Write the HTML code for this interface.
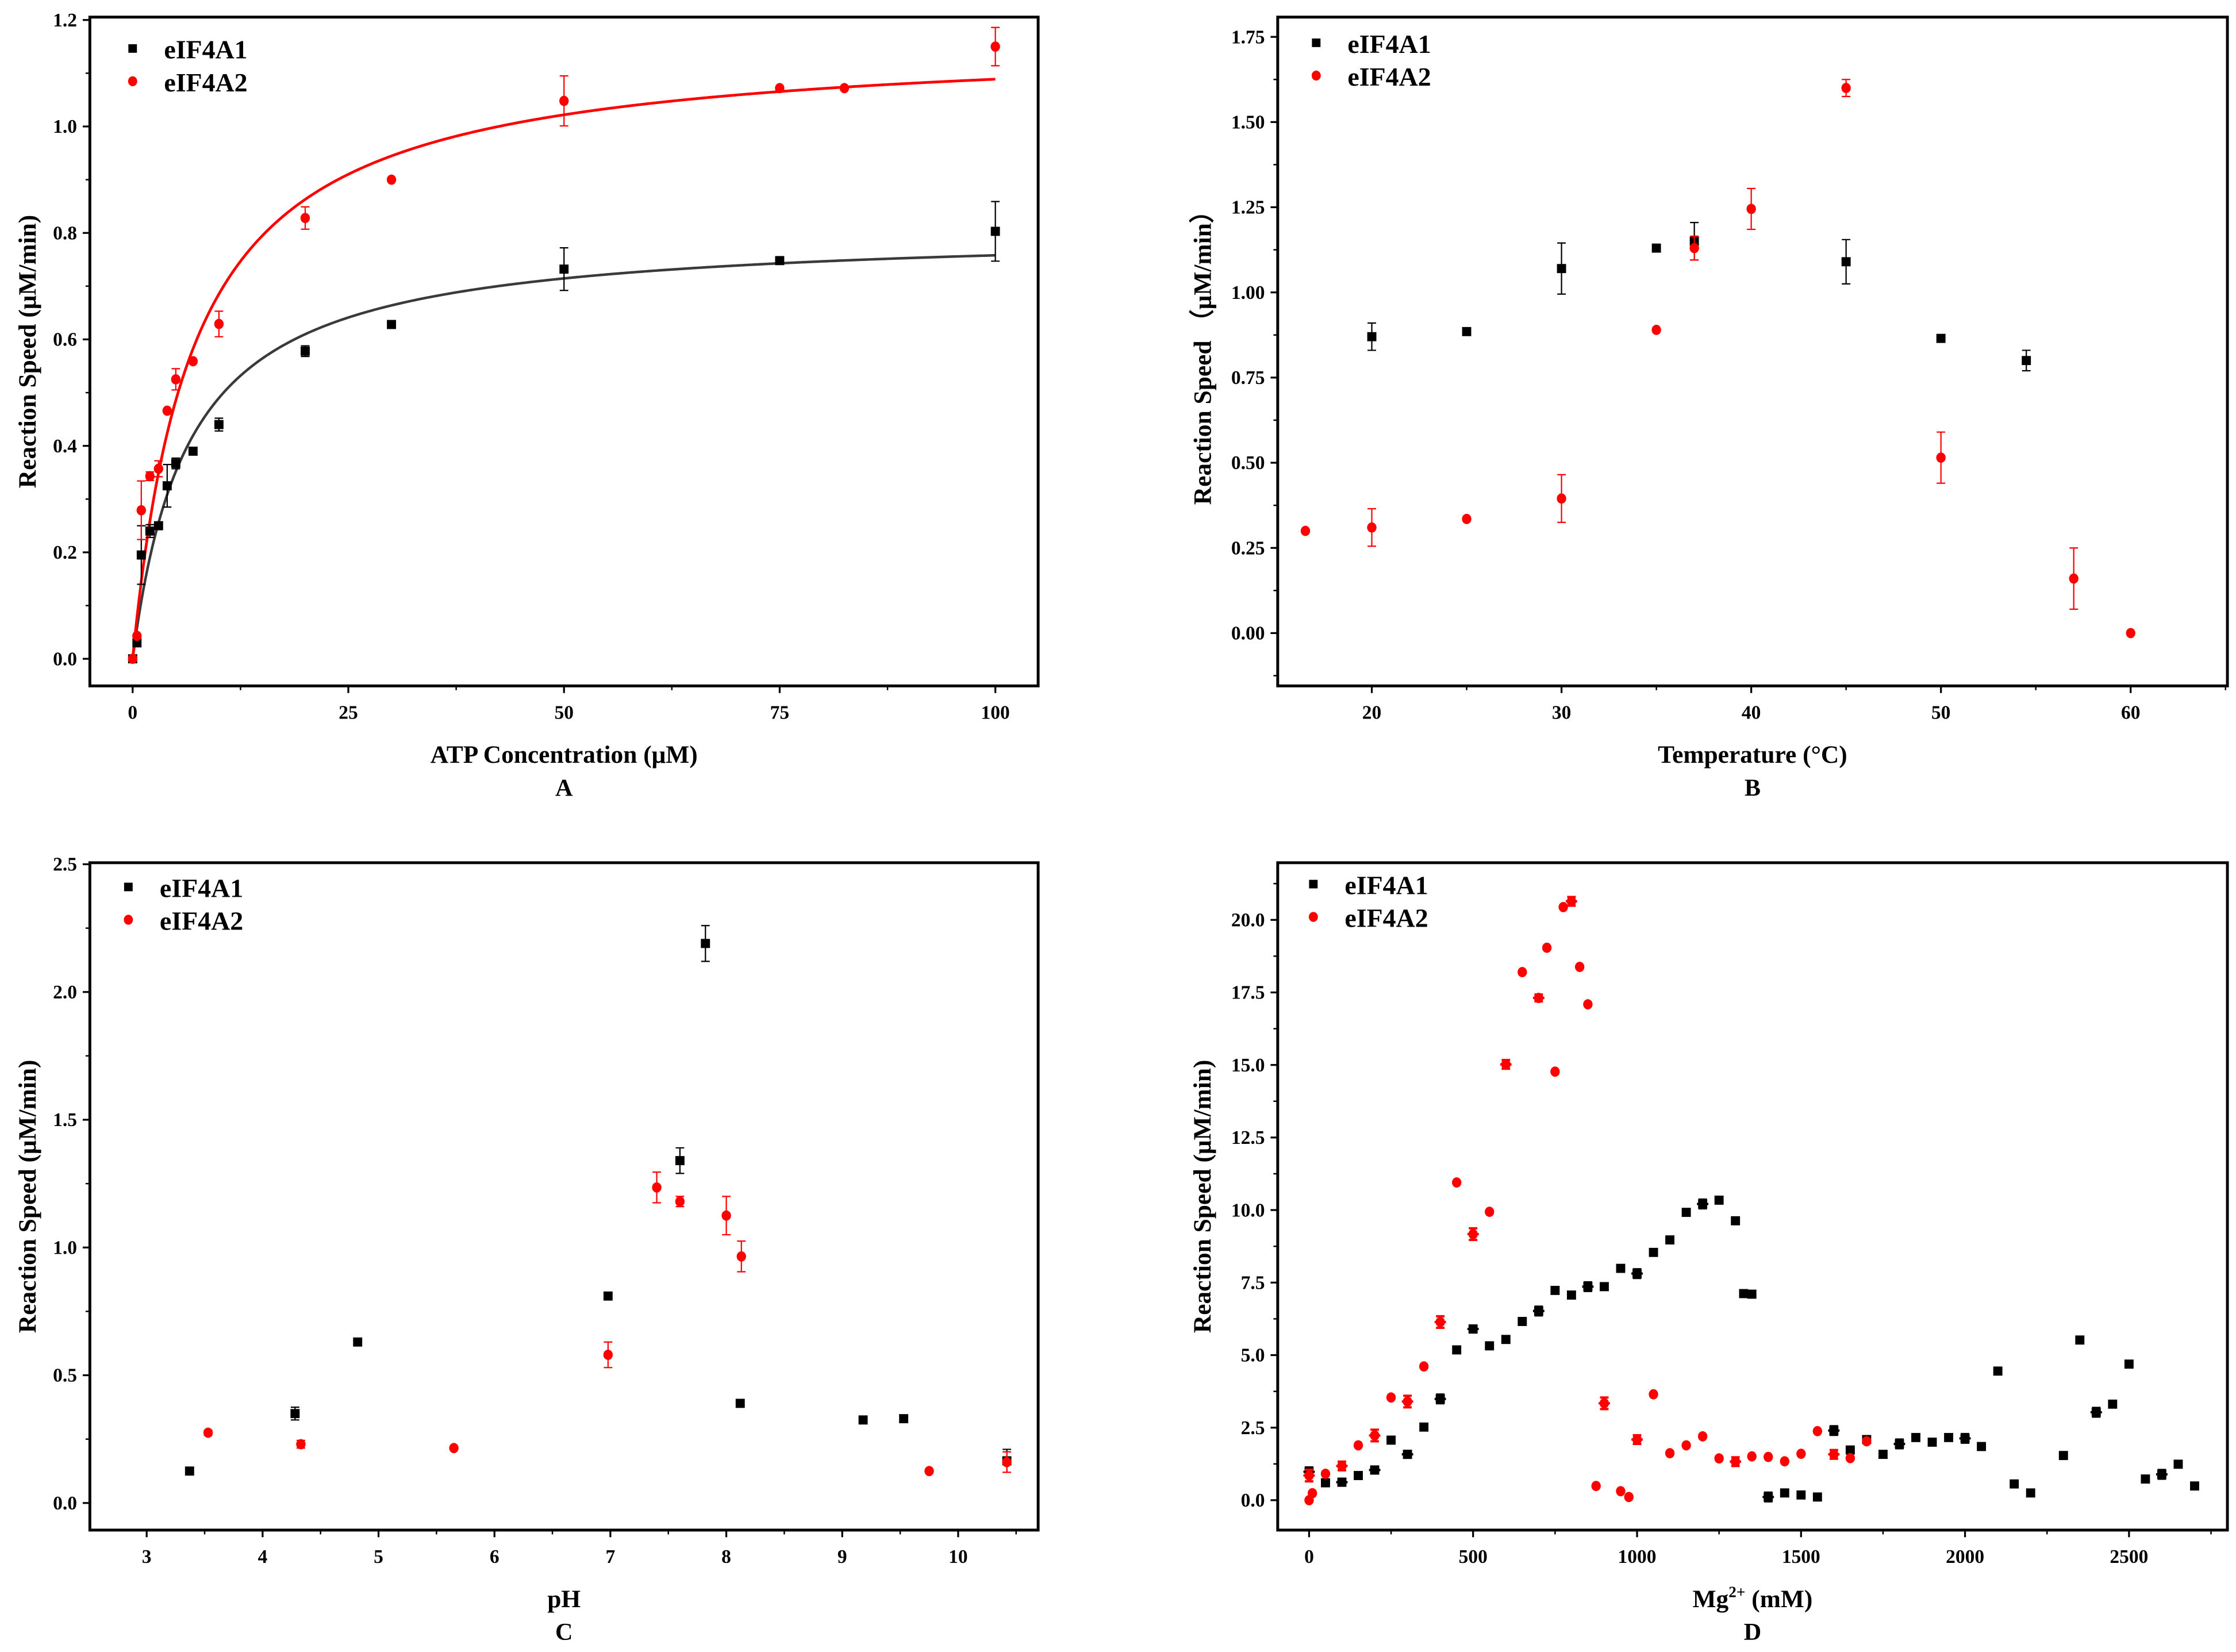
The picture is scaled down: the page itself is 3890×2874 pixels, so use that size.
<!DOCTYPE html>
<html><head><meta charset="utf-8">
<style>
html,body{margin:0;padding:0;background:#fff;}
svg{display:block;}
text{font-family:"Liberation Serif",serif;font-weight:bold;fill:#000;}
</style></head>
<body>
<svg id="fig" width="3890" height="2874" viewBox="0 0 1568 1158.5" xmlns="http://www.w3.org/2000/svg"></svg>
<script>
// Panel A data
const aX1=[0,0.5,1,2,3,4,5,7,10,20,30,50,75,100];
const aY1=[0,0.03,0.195,0.24,0.25,0.325,0.367,0.39,0.44,0.578,0.628,0.732,0.748,0.803];
const aE1=[0,0,0.055,0.012,0,0.04,0.01,0,0.012,0.01,0,0.04,0,0.056];
const aX2=[0,0.5,1,2,3,4,5,7,10,20,30,50,75,82.5,100];
const aY2=[0,0.043,0.279,0.343,0.357,0.466,0.525,0.559,0.629,0.828,0.9,1.048,1.072,1.072,1.15];
const aE2=[0,0,0.055,0.008,0.015,0,0.02,0,0.024,0.021,0,0.047,0,0,0.036];
const aFit1=[0.807,6.47];
const aFit2=[1.165,7.0];
const aXTicks=[0,25,50,75,100];
const aYTicks=[0,0.2,0.4,0.6,0.8,1.0,1.2];
// Panel B data
const bX1=[20,25,30,35,37,45,50,54.5];
const bY1=[0.87,0.885,1.07,1.13,1.15,1.09,0.865,0.80];
const bE1=[0.04,0,0.075,0,0.055,0.065,0.005,0.03];
const bX2=[16.5,20,25,30,35,37,40,45,50,57,60];
const bY2=[0.30,0.31,0.335,0.395,0.89,1.13,1.245,1.60,0.515,0.16,0.0];
const bE2=[0,0.055,0,0.07,0,0.035,0.06,0.025,0.075,0.09,0];
const bXTicks=[20,30,40,50,60];
const bYTicks=[0,0.25,0.5,0.75,1.0,1.25,1.5,1.75];
// Panel C data
const cX1=[3.37,4.28,4.82,6.98,7.6,7.82,8.12,9.18,9.53,10.42];
const cY1=[0.125,0.35,0.63,0.81,1.34,2.19,0.39,0.325,0.33,0.165];
const cE1=[0.01,0.025,0.01,0.01,0.05,0.07,0,0,0,0.045];
const cX2=[3.53,4.33,5.65,6.98,7.4,7.6,8.0,8.13,9.75,10.42];
const cY2=[0.275,0.23,0.215,0.58,1.235,1.18,1.125,0.965,0.125,0.16];
const cE2=[0.01,0.015,0,0.05,0.06,0.02,0.075,0.06,0,0.04];
const cXTicks=[3,4,5,6,7,8,9,10];
const cYTicks=[0,0.5,1.0,1.5,2.0,2.5];
// Panel D data
const dX1=[0,50,100,150,200,250,300,350,400,450,500,550,600,650,700,750,800,850,900,950,1000,1050,1100,1150,1200,1250,1300,1325,1350,1400,1450,1500,1550,1600,1650,1700,1750,1800,1850,1900,1950,2000,2050,2100,2150,2200,2300,2350,2400,2450,2500,2550,2600,2650,2700];
const dY1=[0.98,0.6,0.62,0.85,1.04,2.07,1.58,2.52,3.49,5.18,5.9,5.32,5.54,6.16,6.52,7.23,7.07,7.36,7.36,7.99,7.81,8.54,8.97,9.92,10.21,10.34,9.63,7.12,7.1,0.11,0.25,0.18,0.11,2.4,1.73,2.09,1.58,1.94,2.16,2.0,2.16,2.13,1.85,4.45,0.56,0.25,1.54,5.52,3.03,3.31,4.69,0.73,0.89,1.24,0.49];
const dE1=[0.15,0,0.12,0,0.12,0,0.12,0,0.15,0,0.12,0,0,0,0.15,0,0,0.15,0,0,0.15,0,0,0,0.15,0,0,0,0,0.15,0,0,0,0.15,0,0,0,0.15,0,0,0,0.15,0,0,0,0,0,0,0.15,0,0,0,0.15,0,0];
const dX2=[0,0,10,50,100,150,200,250,300,350,400,450,500,550,600,650,700,725,750,775,800,825,850,875,900,950,975,1000,1050,1100,1150,1200,1250,1300,1350,1400,1450,1500,1550,1600,1650,1700];
const dY2=[0.0,0.85,0.24,0.91,1.18,1.89,2.23,3.54,3.4,4.61,6.14,10.95,9.17,9.94,15.02,18.2,17.31,19.04,14.77,20.44,20.64,18.38,17.09,0.49,3.34,0.31,0.11,2.09,3.65,1.62,1.89,2.2,1.44,1.33,1.51,1.49,1.34,1.6,2.38,1.58,1.45,2.03];
const dE2=[0,0.2,0,0,0.15,0,0.2,0,0.2,0,0.2,0,0.2,0,0.15,0,0.12,0,0,0,0.15,0,0,0,0.2,0,0,0.15,0,0,0,0,0,0.15,0,0,0,0,0,0.15,0,0];
const dXTicks=[0,500,1000,1500,2000,2500];
const dYTicks=[0,2.5,5,7.5,10,12.5,15,17.5,20];

const svg=document.getElementById('fig');
const NS='http://www.w3.org/2000/svg';
function mk(tag,attrs,parent){const e=document.createElementNS(NS,tag);for(const k in attrs)e.setAttribute(k,attrs[k]);(parent||svg).appendChild(e);return e;}

function panel(p){
  const g=mk('g',{});
  
  
  const sx=v=>p.bx0+(v-p.xmin)/(p.xmax-p.xmin)*(p.bx1-p.bx0);
  const sy=v=>p.by1-(v-p.ymin)/(p.ymax-p.ymin)*(p.by1-p.by0);
  p.xTicks.forEach(t=>{
    const l=mk('line',{x1:sx(t),x2:sx(t),y1:p.by1,y2:p.by1+5,stroke:'#000','stroke-width':1.3},g);
    
    const tx=mk('text',{x:sx(t),y:p.by1+23,'text-anchor':'middle','font-size':13.5},g);
    tx.textContent=p.xFmt(t);
    
  });
  for(let i=0;i<p.xTicks.length-1;i++){
    const m=(p.xTicks[i]+p.xTicks[i+1])/2;
    mk('line',{x1:sx(m),x2:sx(m),y1:p.by1,y2:p.by1+3,stroke:'#000','stroke-width':1},g);
  }
  if(p.xExtraMinor)p.xExtraMinor.forEach(m=>{if(sx(m)>p.bx0&&sx(m)<p.bx1)mk('line',{x1:sx(m),x2:sx(m),y1:p.by1,y2:p.by1+3,stroke:'#000','stroke-width':1},g);});
  p.yTicks.forEach(t=>{
    const l=mk('line',{x1:p.bx0-5,x2:p.bx0,y1:sy(t),y2:sy(t),stroke:'#000','stroke-width':1.3},g);
    
    const tx=mk('text',{x:p.bx0-9,y:sy(t)+4.5,'text-anchor':'end','font-size':13.5},g);
    tx.textContent=p.yFmt(t);
    
  });
  const ys=p.yTicks[1]-p.yTicks[0];
  for(let v=p.yTicks[0]-ys/2;v<p.ymax;v+=ys){if(sy(v)<p.by1&&sy(v)>p.by0)mk('line',{x1:p.bx0-3,x2:p.bx0,y1:sy(v),y2:sy(v),stroke:'#000','stroke-width':1},g);}
  const box=mk('rect',{x:p.bx0,y:p.by0,width:p.bx1-p.bx0,height:p.by1-p.by0,fill:'none',stroke:'#000','stroke-width':2},g);
  
  if(p.fits){p.fits.forEach((f,k)=>{
    let d='';for(let i=0;i<=400;i++){const x=p.fitX0+(p.fitX1-p.fitX0)*i/400;const y=f[0]*x/(f[1]+x);d+=(i?'L':'M')+sx(x).toFixed(2)+','+sy(y).toFixed(2);}
    const pa=mk('path',{d:d,fill:'none',stroke:k?'#ff0000':'#3a3a3a','stroke-width':k?1.9:1.8},g);
    
  });}
  p.series.forEach((s,k)=>{
    const col=k?'#ff0000':'#000000';
    const sg=mk('g',{},g);
    
    s.x.forEach((xv,i)=>{
      const cx=sx(xv),cy=sy(s.y[i]);const e=s.e[i];
      if(e>0){
        const eb=mk('path',{d:`M${cx},${sy(s.y[i]+e)}V${sy(s.y[i]-e)}M${cx-3},${sy(s.y[i]+e)}H${cx+3}M${cx-3},${sy(s.y[i]-e)}H${cx+3}`+(p.xErr?`M${cx-p.xErr},${cy}H${cx+p.xErr}`:''),stroke:col,'stroke-width':p.xErr?1.6:0.9,fill:'none'},sg);
        
      }
      let m;
      if(k===0)m=mk('rect',{x:cx-3.2,y:cy-3.2,width:6.4,height:6.4,fill:col},sg);
      else m=mk('ellipse',{cx:cx,cy:cy,rx:3.3,ry:3.6,fill:col},sg);
      
    });
  });
  const lg=mk('g',{},g);
  
  const r1=mk('rect',{x:p.lx-3,y:p.ly-3,width:6,height:6,fill:'#000'},lg);
  
  const t1=mk('text',{x:p.lx+22,y:p.ly+7,'font-size':18.5},lg);t1.textContent='eIF4A1';
  
  const c2=mk('ellipse',{cx:p.lx,cy:p.ly+23,rx:3.2,ry:3.5,fill:'#ff0000'},lg);
  
  const t2=mk('text',{x:p.lx+22,y:p.ly+30,'font-size':18.5},lg);t2.textContent='eIF4A2';
  
  const cxm=(p.bx0+p.bx1)/2;
  const xt=mk('text',{x:cxm,y:p.by1+54,'text-anchor':'middle','font-size':17.5},g);
  xt.innerHTML=p.xTitle;
  
  const pl=mk('text',{x:cxm,y:p.by1+77,'text-anchor':'middle','font-size':17},g);
  pl.textContent=p.id.toUpperCase();
  
  const yc=(p.by0+p.by1)/2+p.yTitleOff;
  const yt=mk('text',{x:p.yTitleX,y:yc,'text-anchor':'middle','font-size':17.5,transform:`rotate(-90 ${p.yTitleX} ${yc})`},g);
  yt.textContent=p.yTitle;
  
}

panel({id:'a',bx0:63,bx1:728,by0:12,by1:481,xmin:-4.96,xmax:104.96,ymin:-0.0509,ymax:1.2054,
  xTicks:aXTicks,yTicks:aYTicks,xFmt:v=>String(v),yFmt:v=>v.toFixed(1),
  series:[{x:aX1,y:aY1,e:aE1},{x:aX2,y:aY2,e:aE2}],fits:[aFit1,aFit2],fitX0:0,fitX1:100,
  lx:93,ly:34,xTitle:'ATP Concentration (μM)',yTitle:'Reaction Speed (μM/min)',yTitleX:25,yTitleOff:0});
panel({id:'b',bx0:896,bx1:1562,by0:12,by1:481,xmin:15.04,xmax:65.1,ymin:-0.155,ymax:1.808,
  xTicks:bXTicks,yTicks:bYTicks,xFmt:v=>String(v),yFmt:v=>v.toFixed(2),
  series:[{x:bX1,y:bY1,e:bE1},{x:bX2,y:bY2,e:bE2}],xExtraMinor:[15,65],
  lx:923,ly:30,xTitle:'Temperature (°C)',yTitle:'Reaction Speed （μM/min）',yTitleX:849,yTitleOff:0});
panel({id:'c',bx0:63,bx1:728,by0:605,by1:1073,xmin:2.51,xmax:10.69,ymin:-0.106,ymax:2.506,
  xTicks:cXTicks,yTicks:cYTicks,xFmt:v=>String(v),yFmt:v=>v.toFixed(1),
  series:[{x:cX1,y:cY1,e:cE1},{x:cX2,y:cY2,e:cE2}],xExtraMinor:[2.5,10.5],
  lx:90,ly:622,xTitle:'pH',yTitle:'Reaction Speed (μM/min)',yTitleX:25,yTitleOff:0});
panel({id:'d',bx0:896,bx1:1562,by0:605,by1:1073,xmin:-95.7,xmax:2800,ymin:-1.03,ymax:21.97,
  xTicks:dXTicks,yTicks:dYTicks,xFmt:v=>String(v),yFmt:v=>v.toFixed(1),xErr:4,
  series:[{x:dX1,y:dY1,e:dE1},{x:dX2,y:dY2,e:dE2}],xExtraMinor:[2750],
  lx:921,ly:620,xTitle:'Mg<tspan font-size="11" dy="-7">2+</tspan><tspan dy="7"> (mM)</tspan>',yTitle:'Reaction Speed (μM/min)',yTitleX:849,yTitleOff:0});
</script>
</body></html>
